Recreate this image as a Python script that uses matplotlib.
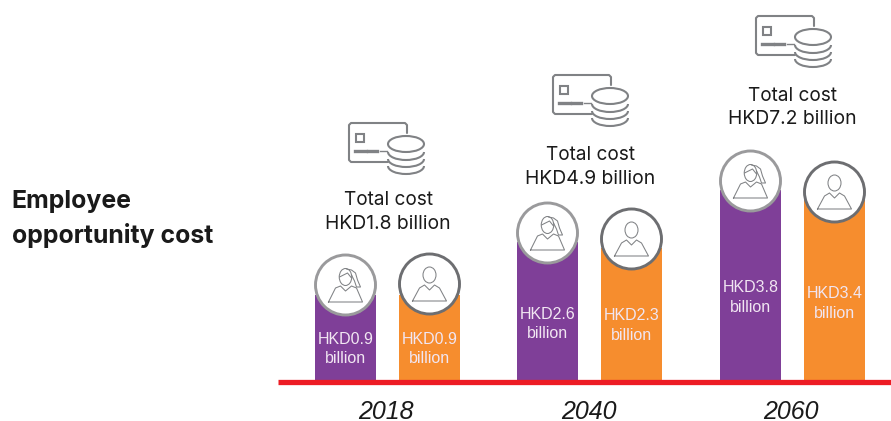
import matplotlib
matplotlib.use("Agg")
import matplotlib.pyplot as plt
from matplotlib.patches import Circle, Ellipse, Arc, Rectangle

years = ["2018", "2040", "2060"]
totals = ["HKD1.8 billion", "HKD4.9 billion", "HKD7.2 billion"]
female_labels = ["HKD0.9", "HKD2.6", "HKD3.8"]
male_labels = ["HKD0.9", "HKD2.3", "HKD3.4"]
# bar lengths as drawn in the picture (the graphic is not to scale)
female_heights = [85, 138, 190]
male_heights = [85, 132, 180]

PURPLE, ORANGE, RED = "#7f3f98", "#f68d2e", "#ed1c24"
F_RING, M_RING, ICON, TXT = "#9a9a9c", "#6d6e71", "#808285", "#1a1a1a"
FONT = "Liberation Sans"
FONT2 = "Inter"

fig = plt.figure(figsize=(8.91, 4.21), dpi=100)
ax = fig.add_axes([0, 0, 1, 1])
BASE = 380
ax.set_xlim(0, 891)
ax.set_ylim(BASE - 421, BASE)   # y = height above the baseline, in pixels
ax.axis("off")

female_x = [345.5, 547.5, 750.5]
male_x = [429.5, 631.5, 834.5]
W = 61
ax.bar(female_x, female_heights, W, color=PURPLE, zorder=1)
ax.bar(male_x, male_heights, W, color=ORANGE, zorder=1)
ax.plot([278, 891], [-2, -2], color=RED, lw=3.8, solid_capstyle="butt", zorder=3)


def Y(py):
    return BASE - py


def person(cx, py, female):
    cy = Y(py)
    ring = F_RING if female else M_RING
    ax.add_patch(Circle((cx, cy), 30, fc="white", ec=ring, lw=2.1, zorder=4))
    lw = 0.75
    kw = dict(color=ICON, lw=lw, zorder=5, solid_joinstyle="round")
    if female:
        ax.add_patch(Ellipse((cx, cy + 8), 12.5, 17, fc="none", ec=ICON, lw=lw, zorder=5))
        ax.plot([cx - 6, cx - 2, cx + 2, cx + 6], [cy + 8, cy + 10, cy + 12, cy + 7], **kw)
        ax.plot([cx + 1, cx + 6, cx + 10, cx + 12, cx + 15, cx + 11, cx + 9, cx + 6],
                [cy + 16, cy + 15, cy + 12, cy + 5, cy - 2, cy - 2, cy + 4, cy + 10], **kw)
        ax.plot([cx - 17, cx - 10, cx - 5, cx + 0, cx + 6, cx + 11, cx + 17, cx - 17],
                [cy - 17, cy - 3, cy - 1, cy - 6, cy - 1, cy - 3, cy - 17, cy - 17], **kw)
    else:
        ax.add_patch(Ellipse((cx, cy + 9), 13, 16, fc="none", ec=ICON, lw=lw, zorder=5))
        ax.plot([cx - 17, cx - 10, cx - 5, cx, cx + 5, cx + 10, cx + 17, cx - 17],
                [cy - 17, cy - 4, cy - 1, cy - 6, cy - 1, cy - 4, cy - 17, cy - 17], **kw)


def money(px, py):
    """Card and coin stack; (px, py) = card's top-left corner in picture pixels."""
    x0, top = px, Y(py)
    lw = 1.5
    kw = dict(color=ICON, lw=lw, zorder=5, solid_capstyle="round")
    ax.plot([x0 + 39, x0 + 2, x0, x0, x0 + 2, x0 + 56, x0 + 58, x0 + 58],
            [top - 39, top - 39, top - 37, top - 2, top, top, top - 2, top - 10], **kw)
    ax.add_patch(Rectangle((x0 + 7, top - 19), 8, 8, fc="none", ec=ICON, lw=lw, zorder=5))
    ax.plot([x0 + 6, x0 + 17], [top - 28, top - 28], color=ICON, lw=2.4, zorder=5)
    ax.plot([x0 + 19, x0 + 28], [top - 28, top - 28], color=ICON, lw=2.4, zorder=5)
    ax.plot([x0 + 31, x0 + 38], [top - 28, top - 28], color=ICON, lw=1, zorder=5)
    cx = x0 + 57
    cy = top - 21
    ax.add_patch(Ellipse((cx, cy), 36, 16, fc="white", ec=ICON, lw=lw, zorder=6))
    for d in (8, 15, 22):
        ax.add_patch(Arc((cx, cy - d), 36, 16, theta1=180, theta2=360, ec=ICON, lw=lw, zorder=6))


female_py = [285, 233, 181]
male_py = [284, 239, 192]
for i in range(3):
    person(female_x[i], female_py[i], True)
    person(male_x[i], male_py[i], False)

icon_px = [(349, 123), (553, 75), (756, 16)]
for px, py in icon_px:
    money(px, py)

text_pos = [(388, 205, 229), (590, 160, 184), (792, 101, 124.5)]
for (tx, y1, y2), t in zip(text_pos, totals):
    ax.text(tx, Y(y1), "Total cost", ha="center", va="baseline", fontsize=13.7,
            family=FONT2, color=TXT, zorder=7)
    ax.text(tx, Y(y2), t, ha="center", va="baseline", fontsize=13.9,
            family=FONT2, color=TXT, zorder=7)

label_py = [(344, 363), (319, 338), (292, 312)]
male_label_py = [(344, 363), (320, 340), (298, 318)]
for i in range(3):
    for x, lab, (a, b) in ((female_x[i], female_labels[i], label_py[i]),
                           (male_x[i], male_labels[i], male_label_py[i])):
        ax.text(x, Y(a), lab, ha="center", va="baseline", fontsize=11.5, family=FONT,
                color="#f1e6f2", zorder=7)
        ax.text(x, Y(b), "billion", ha="center", va="baseline", fontsize=11.5, family=FONT,
                color="#f1e6f2", zorder=7)

for x, y in zip([386, 589, 791], years):
    ax.text(x, Y(419), y, ha="center", va="baseline", fontsize=18, style="italic",
            family=FONT, color=TXT)

ax.text(11.5, Y(208), "Employee", ha="left", va="baseline", fontsize=17.9, weight="bold",
        family=FONT2, color=TXT)
ax.text(11.5, Y(243), "opportunity cost", ha="left", va="baseline", fontsize=17.9, weight="bold",
        family=FONT2, color=TXT)

fig.savefig("out.png", dpi=100)
